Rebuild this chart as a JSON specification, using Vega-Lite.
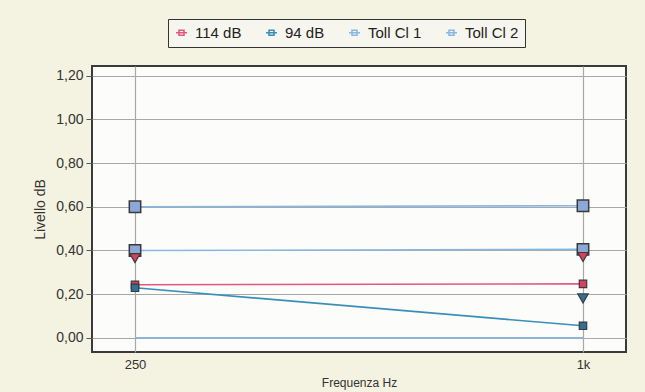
{
  "$schema": "https://vega.github.io/schema/vega-lite/v6.json",
  "width": 534,
  "height": 286,
  "autosize": {"type": "none"},
  "padding": {"left": 92, "top": 66, "right": 19, "bottom": 40},
  "background": "#f4f2e0",
  "config": {
    "font": "Liberation Sans",
    "view": {"fill": "#fcfcfa", "stroke": "#3a3a3a", "strokeWidth": 2}
  },
  "datasets": {
    "series": [
      {"serie": "Toll Cl 2", "f": 0, "v": 0.60},
      {"serie": "Toll Cl 2", "f": 1, "v": 0.605},
      {"serie": "Toll Cl 1", "f": 0, "v": 0.40},
      {"serie": "Toll Cl 1", "f": 1, "v": 0.405},
      {"serie": "Toll 0", "f": 0, "v": 0.0},
      {"serie": "Toll 0", "f": 1, "v": 0.0},
      {"serie": "114 dB", "f": 0, "v": 0.243},
      {"serie": "114 dB", "f": 1, "v": 0.247},
      {"serie": "94 dB", "f": 0, "v": 0.229},
      {"serie": "94 dB", "f": 1, "v": 0.055}
    ],
    "tri": [
      {"serie": "114 dB", "f": 0, "v": 0.365},
      {"serie": "114 dB", "f": 1, "v": 0.37},
      {"serie": "94 dB", "f": 1, "v": 0.18}
    ]
  },
  "layer": [
    {
      "data": {"name": "series"},
      "mark": {"type": "line", "strokeWidth": 1.6},
      "encoding": {
        "x": {
          "field": "f", "type": "quantitative",
          "scale": {"domain": [-0.096, 1.096], "nice": false, "zero": false},
          "axis": {
            "values": [0, 1],
            "labelExpr": "datum.value === 0 ? '250' : '1k'",
            "title": "Frequenza Hz",
            "titleFont": "Liberation Sans", "titleFontSize": 12, "titleFontWeight": "normal",
            "titleColor": "#333", "titlePadding": 6,
            "labelFontSize": 13, "labelColor": "#333",
            "grid": true, "gridColor": "#a8a8a8", "gridWidth": 1.2,
            "domain": false, "ticks": false, "labelPadding": 6
          }
        },
        "y": {
          "field": "v", "type": "quantitative",
          "scale": {"domain": [-0.065, 1.245], "nice": false, "zero": false},
          "axis": {
            "values": [0, 0.1, 0.2, 0.3, 0.4, 0.5, 0.6, 0.7, 0.8, 0.9, 1.0, 1.1, 1.2],
            "labelExpr": "round(datum.value*10) % 2 === 0 ? replace(format(datum.value, '.2f'), '.', ',') : ''",
            "title": "Livello dB",
            "titleFont": "Liberation Sans", "titleFontSize": 14, "titleFontWeight": "normal",
            "titleColor": "#333", "titlePadding": 8,
            "labelFontSize": 14, "labelColor": "#333", "labelPadding": 3,
            "grid": true, "gridColor": "#a8a8a8", "gridWidth": 1.2,
            "gridOpacity": {"condition": {"test": "round(datum.value*10) % 2 === 0", "value": 1}, "value": 0},
            "tickSize": {"condition": {"test": "round(datum.value*10) % 2 === 0", "value": 6}, "value": 3},
            "tickColor": "#555",
            "domain": false
          }
        },
        "color": {
          "field": "serie", "type": "nominal",
          "scale": {
            "domain": ["114 dB", "94 dB", "Toll Cl 1", "Toll Cl 2", "Toll 0"],
            "range": ["#e4587c", "#3a8fb8", "#86b8e6", "#86b8e6", "#86b8e6"]
          },
          "legend": {
            "values": ["114 dB", "94 dB", "Toll Cl 1", "Toll Cl 2"],
            "title": null,
            "orient": "none",
            "legendX": 76,
            "legendY": -47,
            "direction": "horizontal",
            "columns": 4,
            "labelFontSize": 15,
            "labelColor": "#222",
            "labelOffset": 6,
            "symbolType": "M-1,0L1,0M-0.45,-0.45L0.45,-0.45L0.45,0.45L-0.45,0.45Z",
            "symbolSize": 120,
            "symbolStrokeWidth": 1.6,
            "columnPadding": 20,
            "padding": 6,
            "strokeColor": "#333",
            "fillColor": "#f7f6ee"
          }
        },
        "detail": {"field": "serie"}
      }
    },
    {
      "data": {"name": "series"},
      "transform": [{"filter": "indexof(['Toll Cl 1','Toll Cl 2'], datum.serie) >= 0"}],
      "mark": {"type": "point", "shape": "square", "filled": true, "size": 130, "fill": "#8aa8d8", "stroke": "#3a3a3a", "strokeWidth": 1.5, "opacity": 1},
      "encoding": {
        "x": {"field": "f", "type": "quantitative"},
        "y": {"field": "v", "type": "quantitative"}
      }
    },
    {
      "data": {"name": "tri"},
      "mark": {"type": "point", "shape": "triangle-down", "filled": true, "size": 110, "stroke": "#3a3a3a", "strokeWidth": 1.2, "opacity": 1},
      "encoding": {
        "x": {"field": "f", "type": "quantitative"},
        "y": {"field": "v", "type": "quantitative"},
        "fill": {
          "field": "serie", "type": "nominal",
          "scale": {"domain": ["114 dB", "94 dB"], "range": ["#d8405e", "#2f7196"]},
          "legend": null
        }
      }
    },
    {
      "data": {"name": "series"},
      "transform": [{"filter": "indexof(['114 dB','94 dB'], datum.serie) >= 0"}],
      "mark": {"type": "point", "shape": "square", "filled": true, "size": 55, "stroke": "#3a3a3a", "strokeWidth": 1.2, "opacity": 1},
      "encoding": {
        "x": {"field": "f", "type": "quantitative"},
        "y": {"field": "v", "type": "quantitative"},
        "fill": {
          "field": "serie", "type": "nominal",
          "scale": {"domain": ["114 dB", "94 dB"], "range": ["#d8405e", "#2f7196"]},
          "legend": null
        }
      }
    }
  ]
}
